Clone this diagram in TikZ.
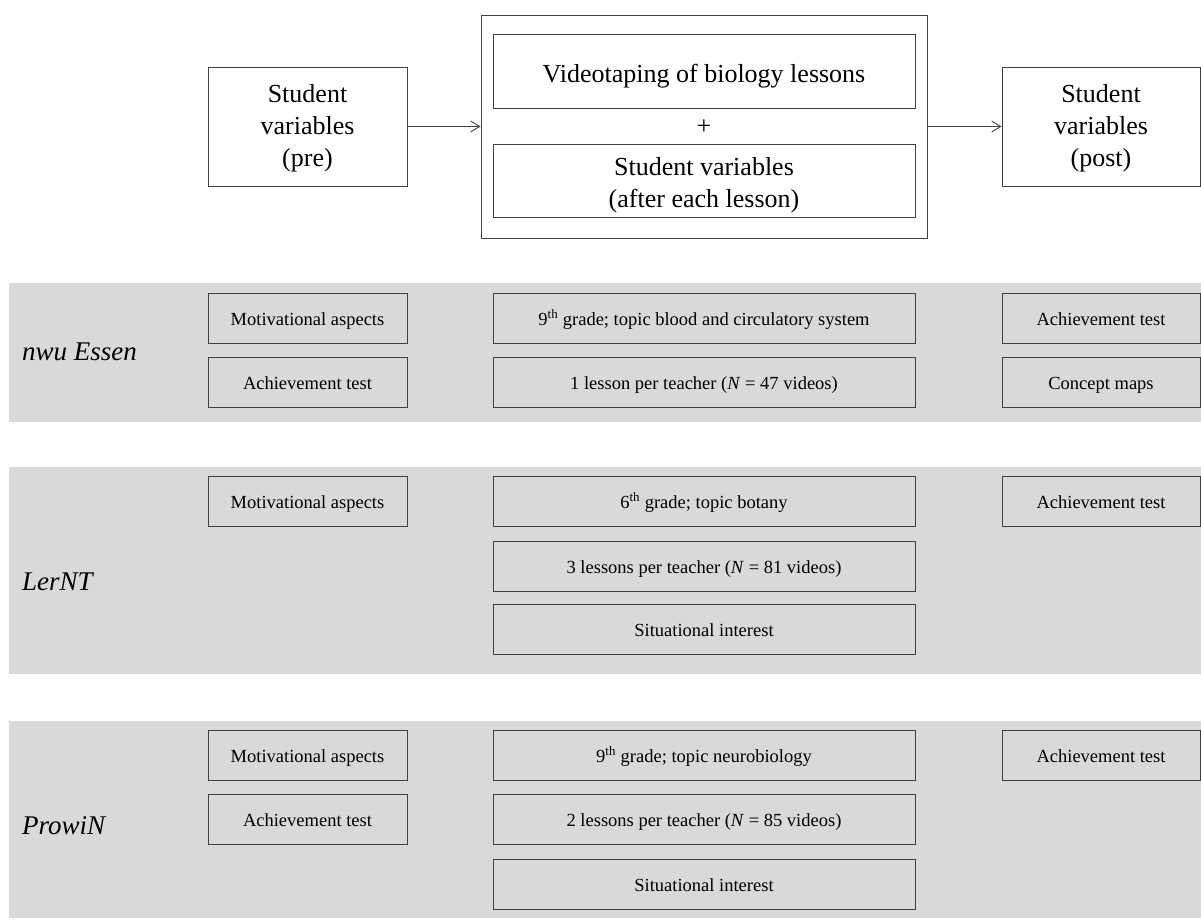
\documentclass[tikz,border=0pt]{standalone}
\usepackage{fontspec}
\setmainfont{Liberation Serif}
\usepackage{xcolor}
\usepackage{tikz}
\usetikzlibrary{arrows.meta,positioning,calc}

\tikzset{
  bigbox/.style={draw=black!75, line width=1pt, fill=white, align=center, inner sep=0pt,
    font=\fontsize{26}{32}\selectfont},
  smallbox/.style={draw=black!75, line width=1pt, inner sep=0pt, minimum height=50pt,
    text height=18pt, text depth=4pt, font=\fontsize{18.5}{21}\selectfont},
  sidebox/.style={smallbox, minimum width=199pt},
  midbox/.style={smallbox, minimum width=422pt},
  studyname/.style={anchor=west, inner sep=0pt, font=\fontsize{27}{32}\selectfont\itshape},
  flow/.style={draw=black!75, line width=0.9pt, -{Straight Barb[length=9pt,width=11pt]}}
}
\newcommand{\topstrut}[1]{\rule{0pt}{#1}}

\begin{document}
\begin{tikzpicture}[x=1pt, y=-1pt]
  \useasboundingbox (0,0) rectangle (1201,919);

  % Design overview
  \node[bigbox, minimum width=199pt, minimum height=119pt] (pre) at (307.5,126.5) {\topstrut{22pt}Student\\variables\\(pre)};
  \node[bigbox, minimum width=446pt, minimum height=223pt] (lessons) at (704,126.5) {};
  \node[bigbox, minimum width=422pt, minimum height=74pt, text height=26pt, text depth=4pt] (video) at (704,71) {Videotaping of biology lessons};
  \node[inner sep=0pt, font=\fontsize{26}{32}\selectfont] (plus) at (704,127) {+};
  \node[bigbox, minimum width=422pt, minimum height=73pt] (after) at (704,180.5) {\topstrut{28.5pt}Student variables\\(after each lesson)};
  \node[bigbox, minimum width=198pt, minimum height=119pt] (post) at (1101,126.5) {\topstrut{22pt}Student\\variables\\(post)};

  \draw[flow] (pre) -- (lessons);
  \draw[flow] (lessons) -- (post);

  % Study bands
  \foreach \top/\bot in {283/422, 467/674, 721/918} {
    \fill[gray!30] (9,\top) rectangle (1201,\bot);
  }

  % nwu Essen
  \node[studyname] (essen) at (22,352) {nwu Essen};
  \node[sidebox] (essenpreA) at (307.5,318) {Motivational aspects};
  \node[sidebox] (essenpreB) at (307.5,382.5) {Achievement test};
  \node[midbox] (essenmidA) at (704,318) {9\textsuperscript{th} grade; topic blood and circulatory system};
  \node[midbox] (essenmidB) at (704,382.5) {1 lesson per teacher (\textit{N} = 47 videos)};
  \node[sidebox, minimum width=198pt] (essenpostA) at (1101,318) {Achievement test};
  \node[sidebox, minimum width=198pt] (essenpostB) at (1101,382.5) {Concept maps};

  % LerNT
  \node[studyname] (lernt) at (22,582) {LerNT};
  \node[sidebox] (lerntpreA) at (307.5,501) {Motivational aspects};
  \node[midbox] (lerntmidA) at (704,501) {6\textsuperscript{th} grade; topic botany};
  \node[midbox] (lerntmidB) at (704,566) {3 lessons per teacher (\textit{N} = 81 videos)};
  \node[midbox] (lerntmidC) at (704,629.5) {Situational interest};
  \node[sidebox, minimum width=198pt] (lerntpostA) at (1101,501) {Achievement test};

  % ProwiN
  \node[studyname] (prowin) at (22,826) {ProwiN};
  \node[sidebox] (prowinpreA) at (307.5,755) {Motivational aspects};
  \node[sidebox] (prowinpreB) at (307.5,819.5) {Achievement test};
  \node[midbox] (prowinmidA) at (704,755) {9\textsuperscript{th} grade; topic neurobiology};
  \node[midbox] (prowinmidB) at (704,819.5) {2 lessons per teacher (\textit{N} = 85 videos)};
  \node[midbox] (prowinmidC) at (704,884) {Situational interest};
  \node[sidebox, minimum width=198pt] (prowinpostA) at (1101,755) {Achievement test};
\end{tikzpicture}
\end{document}
